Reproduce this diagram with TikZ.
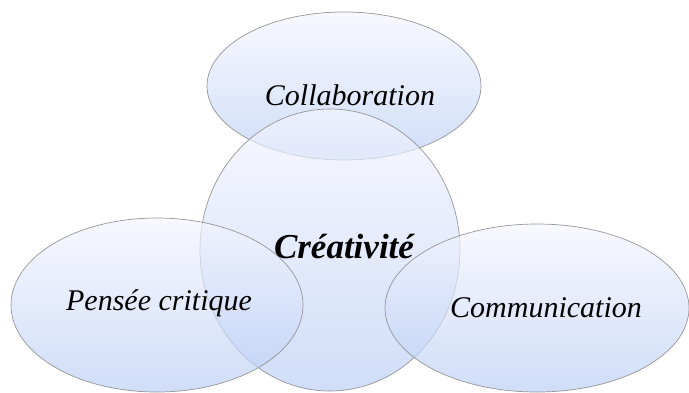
\documentclass[tikz,border=0pt]{standalone}
\usepackage{fontspec}
\setmainfont{Liberation Serif}
\usetikzlibrary{shapes.geometric}
\tikzset{
  blob/.style={ellipse, draw=black!45, line width=0.7pt, inner sep=0pt,
    top color=blue!4!white, bottom color={rgb,255:red,185;green,206;blue,245},
    fill opacity=0.68, draw opacity=0.9},
  lbl/.style={font=\fontsize{30}{34}\selectfont\itshape, inner sep=0pt},
  lblb/.style={font=\fontsize{35}{40}\selectfont\bfseries\itshape, inner sep=0pt}
}
\begin{document}
\begin{tikzpicture}[x=1pt,y=-1pt]
\useasboundingbox (0,0) rectangle (689,392);
\node[blob, minimum width=274pt, minimum height=148pt] (collab) at (344,86) {};
\node[blob, minimum width=260pt, minimum height=282pt] (crea) at (330,250) {};
\node[blob, minimum width=292pt, minimum height=174pt] (pensee) at (157,305) {};
\node[blob, minimum width=304pt, minimum height=168pt] (comm) at (537,308) {};
\node[lbl] (tcollab) at (350,95) {Collaboration};
\node[lblb] (tcrea) at (344,247) {Créativité};
\node[lbl] (tpensee) at (159,303) {Pensée critique};
\node[lbl] (tcomm) at (546,308) {Communication};
\end{tikzpicture}
\end{document}
